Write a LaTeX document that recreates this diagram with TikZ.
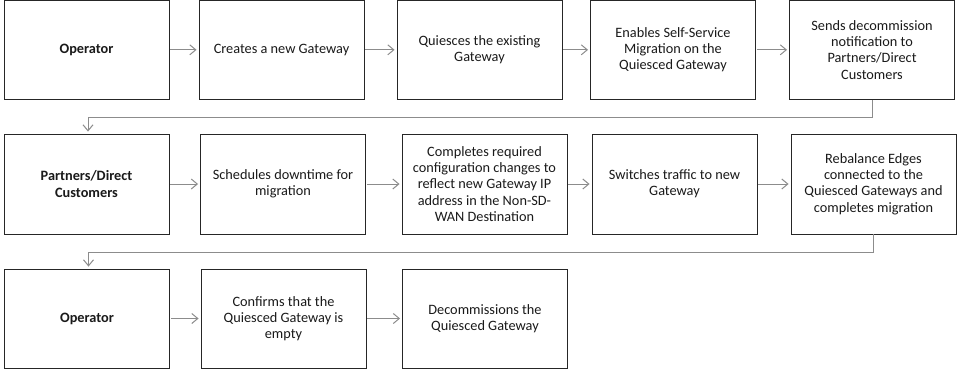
\documentclass[tikz,border=0pt]{standalone}
\usepackage{fontspec}
\setmainfont{Carlito}
\usetikzlibrary{arrows.meta}
\definecolor{linegray}{HTML}{8C8C8C}
\definecolor{boxline}{HTML}{262626}
\definecolor{txt}{HTML}{1A1A1A}
\begin{document}
\begin{tikzpicture}[x=1pt,y=-1pt,
  stepbox/.style={draw=boxline,line width=0.9pt,fill=white,minimum width=165pt,minimum height=99pt,align=center,font=\fontsize{14.3}{16.2}\selectfont,text=txt,inner sep=2pt},
  actor/.style={stepbox,font=\fontsize{14.3}{16.2}\selectfont\bfseries},
  flow/.style={draw=linegray,line width=1pt,-{Straight Barb[length=6pt,width=10pt]},shorten >=2pt,shorten <=1pt}]
\useasboundingbox (0,0) rectangle (972,389);
% row 1
\node[actor]   (a1) at (86.5,49.8) {Operator};
\node[stepbox] (a2) at (281.5,49.8) {Creates a new Gateway};
\node[stepbox] (a3) at (479.5,49.8) {Quiesces the existing\\Gateway};
\node[stepbox] (a4) at (673,49.8) {Enables Self-Service\\Migration on the\\Quiesced Gateway};
\node[stepbox] (a5) at (872,49.8) {Sends decommission\\notification to\\Partners/Direct\\Customers};
% row 2
\node[actor,minimum height=100pt]   (b1) at (86.5,184) {Partners/Direct\\Customers};
\node[stepbox,minimum height=100pt] (b2) at (283,184) {Schedules downtime for\\migration};
\node[stepbox,minimum height=100pt] (b3) at (484.5,184) {Completes required\\configuration changes to\\reflect new Gateway IP\\address in the Non-SD-\\WAN Destination};
\node[stepbox,minimum height=100pt] (b4) at (674.5,184) {Switches traffic to new\\Gateway};
\node[stepbox,minimum height=100pt] (b5) at (873.5,184) {Rebalance Edges\\connected to the\\Quiesced Gateways and\\completes migration};
% row 3
\node[actor]   (c1) at (87,318.5) {Operator};
\node[stepbox] (c2) at (283.5,318.5) {Confirms that the\\Quiesced Gateway is\\empty};
\node[stepbox] (c3) at (485,318.5) {Decommissions the\\Quiesced Gateway};
% connectors
\draw[flow] (a1) -- (a2);
\draw[flow] (a2) -- (a3);
\draw[flow] (a3) -- (a4);
\draw[flow] (a4) -- (a5);
\draw[flow,shorten <=0pt] (a5.south) -- ++(0,18) -| ([xshift=1.5pt]b1.north);
\draw[flow] (b1) -- (b2);
\draw[flow] (b2) -- (b3);
\draw[flow] (b3) -- (b4);
\draw[flow] (b4) -- (b5);
\draw[flow,shorten <=0pt] (b5.south) -- ++(0,18) -| ([xshift=1.5pt]c1.north);
\draw[flow] (c1) -- (c2);
\draw[flow] (c2) -- (c3);
\end{tikzpicture}
\end{document}
